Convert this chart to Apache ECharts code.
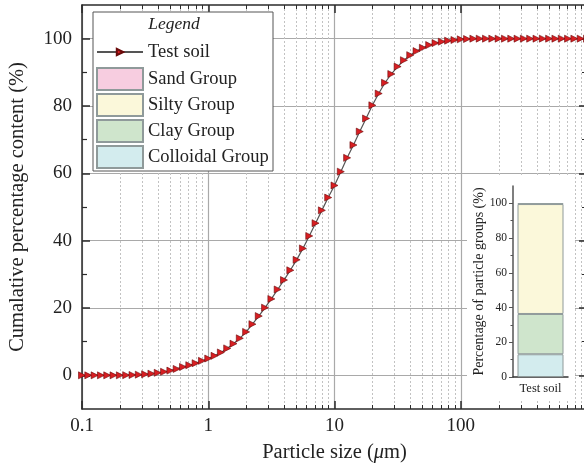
<!DOCTYPE html>
<html><head><meta charset="utf-8">
<script src="https://cdn.jsdelivr.net/npm/echarts@6/dist/echarts.min.js"></script>
<style>html,body{margin:0;padding:0;background:#fff}#c{width:584px;height:468px}</style>
</head><body><div id="c"></div>
<script>
// Particle size classes (um)
const sizes = [0.1,0.1122,0.1259,0.1413,0.1585,0.1778,0.1995,0.2239,0.2512,0.2818,0.3162,0.3548,0.3981,0.4467,0.5012,0.5623,0.631,0.7079,0.7943,0.8913,
1,1.122,1.259,1.413,1.585,1.778,1.995,2.239,2.512,2.818,3.162,3.548,3.981,4.467,5.012,5.623,6.31,7.079,7.943,8.913,
10,11.22,12.59,14.13,15.85,17.78,19.95,22.39,25.12,28.18,31.62,35.48,39.81,44.67,50.12,56.23,63.1,70.79,79.43,89.13,
100,112.2,125.9,141.3,158.5,177.8,199.5,223.9,251.2,281.8,316.2,354.8,398.1,446.7,501.2,562.3,631,707.9,794.3,891.3,1000];
// Cumulative percentage content (%)
const cumulative = [0,0,0,0,0,0,0,0.05,0.1,0.2,0.3,0.5,0.75,1.05,1.4,1.9,2.5,3.0,3.6,4.3,
5.0,5.8,6.8,8.0,9.4,11.0,12.9,15.2,17.6,20.1,22.7,25.5,28.3,31.2,34.3,37.7,41.4,45.2,49.0,52.8,
56.4,60.5,64.6,68.4,72.4,76.3,80.2,83.7,86.9,89.5,91.7,93.6,95.1,96.3,97.3,98.1,98.7,99.1,99.4,99.6,
99.8,99.9,100,100,100,100,100,100,100,100,100,100,100,100,100,100,100,100,100,100,100];
// Inset: particle groups (stack bottom -> top)
const groupNames = ['Colloidal Group','Clay Group','Silty Group','Sand Group'];
const groupValues = [13.1, 23.2, 63.3, 0.4];
const groupColors = ['#d3ecee','#cfe5cc','#fbf8da','#f7cde0'];
const insetCategory = ['Test soil'];
const legendGroupOrder = ['Sand Group','Silty Group','Clay Group','Colloidal Group'];
// Ticks
const xMajorTicks = [0.1,1,10,100,1000];
const xLabelTicks = [0.1,1,10,100];
const xMinorTicks = [0.2,0.3,0.4,0.5,0.6,0.7,0.8,0.9,2,3,4,5,6,7,8,9,20,30,40,50,60,70,80,90,200,300,400,500,600,700,800,900];
const yMajorTicks = [0,20,40,60,80,100];
const yMinorTicks = [10,30,50,70,90];
const insetMajorTicks = [0,20,40,60,80,100];
const insetMinorTicks = [10,30,50,70,90];

const serif = "'Liberation Serif','DejaVu Serif',serif";
const axisColor = '#2b2b2b';
const txt = '#222';

function xAx(o){ return Object.assign({gridIndex:0,type:'log',logBase:10,min:0.1,max:1000,
  axisLine:{onZero:false,lineStyle:{color:axisColor,width:1.5}},axisLabel:{show:false},splitLine:{show:false}},o); }
function yAx(o){ return Object.assign({gridIndex:0,type:'value',min:-10,max:110,
  axisLine:{onZero:false,lineStyle:{color:axisColor,width:1.5}},axisLabel:{show:false},splitLine:{show:false}},o); }

const chart = echarts.init(document.getElementById('c'), null, {renderer:'canvas'});
chart.setOption({
  animation:false,
  backgroundColor:'#fff',
  grid:[
    {left:82,right:-3,top:5,bottom:59,outerBoundsMode:'none',containLabel:false},
    {left:513,top:186,width:55,height:191,outerBoundsMode:'none',containLabel:false}
  ],
  xAxis:[
    xAx({position:'bottom',
      axisTick:{inside:true,length:8,customValues:xMajorTicks,lineStyle:{color:axisColor,width:1.5}},
      axisLabel:{show:true,customValues:xLabelTicks,fontFamily:serif,fontSize:19,color:txt,margin:8,
        formatter:v=>v<1?v.toFixed(1):String(Math.round(v))},
      splitLine:{show:true,lineStyle:{color:'#a9a9a9',width:1.2}},
      name:'Particle size ({i|μ}m)',nameLocation:'middle',nameGap:33,
      nameTextStyle:{fontFamily:serif,fontSize:20.5,color:txt,rich:{i:{fontFamily:serif,fontSize:20.5,fontStyle:'italic',color:txt}}}
    }),
    xAx({position:'bottom',axisLine:{show:false,onZero:false},
      axisTick:{inside:true,length:4,customValues:xMinorTicks,lineStyle:{color:axisColor,width:1}},
      splitLine:{show:true,lineStyle:{color:'#c2c2c2',width:1,type:[2,2]}}}),
    xAx({position:'top',
      axisTick:{inside:true,length:8,customValues:xMajorTicks,lineStyle:{color:axisColor,width:1.5}}}),
    xAx({position:'top',axisLine:{show:false,onZero:false},
      axisTick:{inside:true,length:4,customValues:xMinorTicks,lineStyle:{color:axisColor,width:1}}}),
    {gridIndex:1,type:'category',data:insetCategory,z:6,
      axisLine:{lineStyle:{color:'#333',width:1.5}},axisTick:{show:false},
      axisLabel:{fontFamily:serif,fontSize:12.5,color:txt,margin:5}}
  ],
  yAxis:[
    yAx({position:'left',
      axisTick:{inside:true,length:8,customValues:yMajorTicks,lineStyle:{color:axisColor,width:1.5}},
      axisLabel:{show:true,customValues:yMajorTicks,fontFamily:serif,fontSize:19,color:txt,margin:10},
      splitLine:{show:true,lineStyle:{color:'#a9a9a9',width:1.2}},
      name:'Cumalative percentage content (%)',nameLocation:'middle',nameGap:54,
      nameTextStyle:{fontFamily:serif,fontSize:20.5,color:txt}
    }),
    yAx({position:'left',axisLine:{show:false,onZero:false},
      axisTick:{inside:true,length:5,customValues:yMinorTicks,lineStyle:{color:axisColor,width:1.2}}}),
    yAx({position:'right',
      axisTick:{inside:true,length:8,customValues:yMajorTicks,lineStyle:{color:axisColor,width:1.5}}}),
    yAx({position:'right',axisLine:{show:false,onZero:false},
      axisTick:{inside:true,length:5,customValues:yMinorTicks,lineStyle:{color:axisColor,width:1.2}}}),
    {gridIndex:1,type:'value',min:0,max:110,position:'left',z:6,
      axisLine:{show:true,onZero:false,lineStyle:{color:'#555',width:1.5}},
      axisTick:{show:true,inside:false,length:4,customValues:insetMajorTicks,lineStyle:{color:'#555'}},
      axisLabel:{customValues:insetMajorTicks,fontFamily:serif,fontSize:11.5,color:txt,margin:6},
      splitLine:{show:false},
      name:'Percentage of particle groups (%)',nameLocation:'middle',nameGap:24,
      nameTextStyle:{fontFamily:serif,fontSize:14,color:txt}},
    {gridIndex:1,type:'value',min:0,max:110,position:'left',z:6,
      axisLine:{show:false,onZero:false},
      axisTick:{show:true,inside:false,length:2.5,customValues:insetMinorTicks,lineStyle:{color:'#555'}},
      axisLabel:{show:false},splitLine:{show:false}}
  ],
  legend:[
    {data:['Test soil'],orient:'vertical',left:96,top:42,padding:0,itemWidth:46,itemHeight:8,
      selectedMode:false,z:7,textStyle:{fontFamily:serif,fontSize:18.5,color:txt,lineHeight:20}},
    {data:legendGroupOrder,orient:'vertical',left:96,top:67,padding:0,itemWidth:46,itemHeight:22,itemGap:2,
      icon:'rect',selectedMode:false,z:7,textStyle:{fontFamily:serif,fontSize:18.5,color:txt,lineHeight:20}}
  ],
  graphic:[
    {type:'rect',z:5,shape:{x:93,y:12,width:180,height:159},style:{fill:'#fff',stroke:'#555',lineWidth:1}},
    {type:'text',z:7,x:174,y:24,style:{text:'Legend',fill:txt,font:"italic 17.5px 'Liberation Serif','DejaVu Serif',serif",align:'center',verticalAlign:'middle'}},
    {type:'rect',z:5,shape:{x:467,y:176,width:108,height:224},style:{fill:'#fff'}}
  ],
  series:[
    {name:'Test soil',type:'line',xAxisIndex:0,yAxisIndex:0,z:3,
      data:sizes.map((s,i)=>[s,cumulative[i]]),
      symbol:'triangle',symbolSize:7,symbolRotate:-90,showAllSymbol:true,
      lineStyle:{color:'#555',width:1.2},
      itemStyle:{color:'#d81e22',borderColor:'#6a0a0a',borderWidth:0.6}}
  ].concat(groupNames.map((n,i)=>({
      name:n,type:'bar',xAxisIndex:4,yAxisIndex:4,stack:'g',barWidth:46,z:6,
      data:[groupValues[i]],
      itemStyle:{color:groupColors[i],borderColor:'#8f9a9a',borderWidth:1}
  })))
});
</script></body></html>
